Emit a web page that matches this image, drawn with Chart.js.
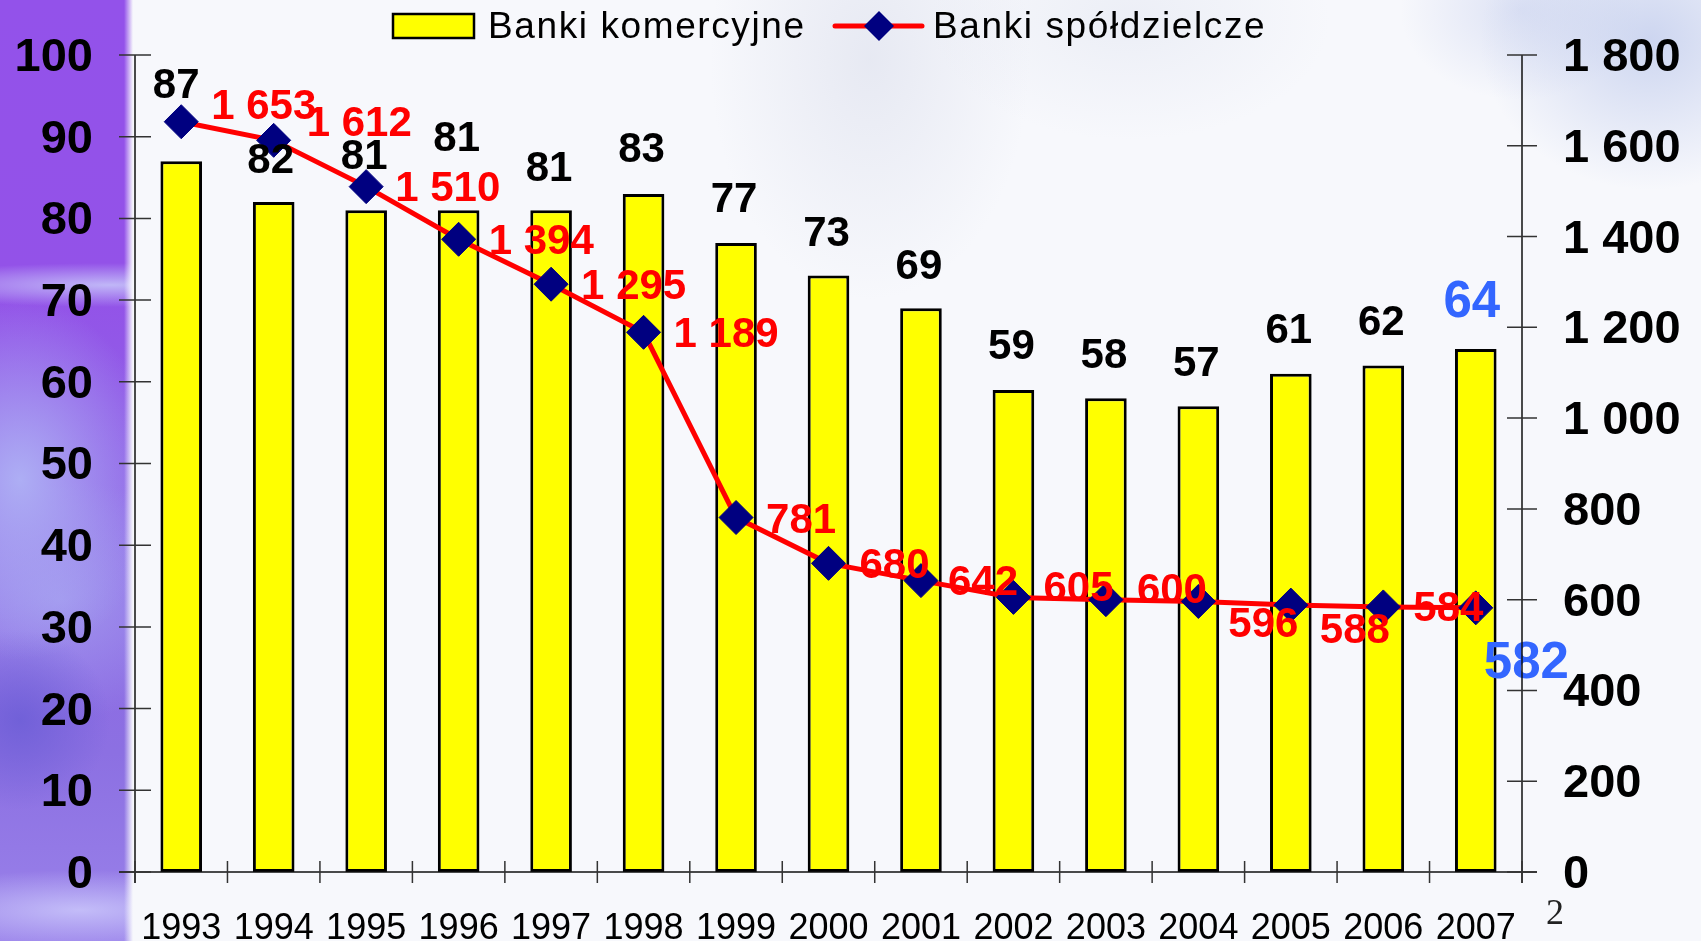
<!DOCTYPE html>
<html>
<head>
<meta charset="utf-8">
<script src="https://cdn.jsdelivr.net/npm/chart.js@4.4.0/dist/chart.umd.min.js"></script>
<style>
html, body { margin:0; padding:0; width:1701px; height:941px; overflow:hidden; }
body {
  background:
    radial-gradient(ellipse 170px 150px at 1650px 40px, rgba(170,185,230,0.55), rgba(170,185,230,0) 100%),
    radial-gradient(ellipse 120px 90px at 1520px 10px, rgba(190,200,235,0.45), rgba(190,200,235,0) 100%),
    radial-gradient(ellipse 160px 240px at 870px 60px, rgba(200,205,225,0.35), rgba(200,205,225,0) 100%),
    radial-gradient(ellipse 200px 120px at 1130px 20px, rgba(215,220,235,0.35), rgba(215,220,235,0) 100%),
    linear-gradient(to right, rgba(247,248,252,0) 0px, rgba(247,248,252,0) 124px, #f7f8fc 133px, #f7f8fc 100%),
    radial-gradient(ellipse 230px 22px at 110px 285px, rgba(200,200,250,0.85), rgba(200,200,250,0) 100%),
    radial-gradient(ellipse 140px 180px at 20px 480px, rgba(175,178,245,0.95), rgba(175,178,245,0) 100%),
    radial-gradient(ellipse 90px 90px at 20px 720px, rgba(110,95,215,0.9), rgba(110,95,215,0) 100%),
    radial-gradient(ellipse 200px 40px at 80px 910px, rgba(200,195,250,0.9), rgba(200,195,250,0) 100%),
    radial-gradient(ellipse 160px 120px at 60px 600px, rgba(165,160,240,0.8), rgba(165,160,240,0) 100%),
    linear-gradient(180deg, #9352ea 0%, #9352e8 30%, #8f66e6 55%, #8c70e2 80%, #9a82ea 100%);
}
canvas { display:block; }
</style>
</head>
<body>
<canvas id="chart" width="1701" height="941"></canvas>
<script>
// ---- data ----
const years = ['1993','1994','1995','1996','1997','1998','1999','2000','2001','2002','2003','2004','2005','2006','2007'];
const commercialBanks = [87, 82, 81, 81, 81, 83, 77, 73, 69, 59, 58, 57, 61, 62, 64];
const cooperativeBanks = [1653, 1612, 1510, 1394, 1295, 1189, 781, 680, 642, 605, 600, 596, 588, 584, 582];
const seriesNames = ['Banki komercyjne', 'Banki spółdzielcze'];
const leftAxisMax = 100, leftAxisStep = 10;
const rightAxisMax = 1800, rightAxisStep = 200;
const slideNumber = '2';

// ---- label placement (pixel offsets from each mark) ----
const barLabelDx = [-5, -3, -2, -2, -2, -2, -2, -2, -2, -2, -2, -2, -2, -2, -4];
const barLabelDy = [-75, -41, -53, -71, -41, -43, -42, -41, -41, -43, -42, -42, -42, -42, -46];
const lineLabelDx = [30, 33, 29, 30, 30, 30, 30, 31, 27, 30, 31, 30, 29, 30, 8];
const lineLabelDy = [-14, -16, 3, 3, 3, 3, 4, 3, 3, -8, -8, 24, 26, 2, 56];

const FONT = '"Liberation Sans", Arial, Helvetica, sans-serif';

function fmtThousands(v) {
  v = Math.round(v);
  if (v >= 1000) return Math.floor(v / 1000) + ' ' + String(v % 1000).padStart(3, '0');
  return String(v);
}

const overlay = {
  id: 'overlay',
  afterDatasetsDraw(chart) {
    const ctx = chart.ctx;
    const bars = chart.getDatasetMeta(0).data;
    const pts = chart.getDatasetMeta(1).data;
    ctx.save();
    ctx.textBaseline = 'middle';
    pts.forEach((p, i) => {
      const last = i === pts.length - 1;
      ctx.font = `bold ${last ? 51 : 42}px ${FONT}`;
      ctx.fillStyle = last ? '#3366ff' : '#ff0000';
      ctx.textAlign = 'left';
      ctx.fillText(fmtThousands(cooperativeBanks[i]), p.x + lineLabelDx[i], p.y + lineLabelDy[i]);
    });
    bars.forEach((b, i) => {
      const last = i === bars.length - 1;
      ctx.font = `bold ${last ? 51 : 42}px ${FONT}`;
      ctx.fillStyle = last ? '#3366ff' : '#000000';
      ctx.textAlign = 'center';
      ctx.fillText(String(commercialBanks[i]), b.x + barLabelDx[i], b.y + barLabelDy[i]);
    });
    ctx.restore();
  },
  afterDraw(chart) {
    const ctx = chart.ctx;
    const a = chart.chartArea;
    const yL = chart.scales.y, yR = chart.scales.y1;
    ctx.save();
    ctx.strokeStyle = '#111';
    ctx.lineWidth = 1.5;
    ctx.beginPath();
    ctx.moveTo(a.left, a.top); ctx.lineTo(a.left, a.bottom + 11);
    ctx.moveTo(a.right, a.top); ctx.lineTo(a.right, a.bottom + 11);
    ctx.moveTo(a.left - 16, a.bottom); ctx.lineTo(a.right + 15, a.bottom);
    ctx.stroke();
    ctx.strokeStyle = '#333';
    ctx.beginPath();
    yL.ticks.forEach(t => { const py = yL.getPixelForValue(t.value); ctx.moveTo(a.left - 16, py); ctx.lineTo(a.left + 16, py); });
    yR.ticks.forEach(t => { const py = yR.getPixelForValue(t.value); ctx.moveTo(a.right - 15, py); ctx.lineTo(a.right + 15, py); });
    const n = years.length;
    for (let i = 0; i <= n; i++) {
      const px = a.left + (a.right - a.left) * i / n;
      ctx.moveTo(px, a.bottom - 11); ctx.lineTo(px, a.bottom + 11);
    }
    ctx.stroke();

    // legend
    const ly = 26;
    ctx.fillStyle = '#ffff00';
    ctx.strokeStyle = '#000';
    ctx.lineWidth = 2.5;
    ctx.fillRect(393, ly - 12, 81, 24);
    ctx.strokeRect(393, ly - 12, 81, 24);
    ctx.fillStyle = '#000';
    ctx.font = `37px ${FONT}`;
    ctx.textBaseline = 'middle';
    ctx.textAlign = 'left';
    ctx.letterSpacing = '1.6px';
    ctx.fillText(chart.data.datasets[0].label, 488, ly + 2);
    ctx.strokeStyle = '#ff0000';
    ctx.lineWidth = 5;
    ctx.lineCap = 'round';
    ctx.beginPath(); ctx.moveTo(835, ly); ctx.lineTo(922, ly); ctx.stroke();
    ctx.fillStyle = '#000080';
    ctx.beginPath();
    ctx.moveTo(879, ly - 15); ctx.lineTo(894, ly); ctx.lineTo(879, ly + 15); ctx.lineTo(864, ly);
    ctx.closePath(); ctx.fill();
    ctx.fillStyle = '#000';
    ctx.fillText(chart.data.datasets[1].label, 933, ly + 2);
    ctx.letterSpacing = '0px';

    ctx.font = `36px "Liberation Serif", "Times New Roman", serif`;
    ctx.fillStyle = '#222';
    ctx.fillText(slideNumber, 1546, 915);
    ctx.restore();
  }
};

function zeroPad(s) { s.paddingTop = 0; s.paddingBottom = 0; s.paddingLeft = 0; s.paddingRight = 0; }

new Chart(document.getElementById('chart'), {
  type: 'bar',
  data: {
    labels: years,
    datasets: [
      {
        type: 'bar',
        label: seriesNames[0],
        data: commercialBanks,
        yAxisID: 'y',
        backgroundColor: '#ffff00',
        borderColor: '#000000',
        borderWidth: 3,
        borderSkipped: false,
        barPercentage: 0.9,
        categoryPercentage: 0.5,
        order: 2
      },
      {
        type: 'line',
        label: seriesNames[1],
        data: cooperativeBanks,
        yAxisID: 'y1',
        borderColor: '#ff0000',
        borderWidth: 5,
        tension: 0,
        pointStyle: 'rectRot',
        pointRadius: 17,
        pointHoverRadius: 17,
        pointBackgroundColor: '#000080',
        pointBorderColor: '#000080',
        pointBorderWidth: 1,
        order: 1
      }
    ]
  },
  options: {
    responsive: false,
    animation: false,
    events: [],
    layout: { padding: { top: 55, bottom: 0, left: 0, right: 0 } },
    plugins: { legend: { display: false }, tooltip: { enabled: false } },
    scales: {
      x: {
        offset: true,
        grid: { display: false, drawTicks: false },
        border: { display: false },
        ticks: {
          autoSkip: false, maxRotation: 0, padding: 35,
          color: '#000',
          font: { family: FONT, size: 36 }
        },
        afterFit(s) { s.height = 69; zeroPad(s); }
      },
      y: {
        position: 'left',
        min: 0, max: leftAxisMax,
        grid: { display: false, drawTicks: false },
        border: { display: false },
        ticks: {
          stepSize: leftAxisStep, padding: 42, labelOffset: 3,
          color: '#000',
          font: { family: FONT, size: 47, weight: 'bold' }
        },
        afterFit(s) { s.width = 135; zeroPad(s); }
      },
      y1: {
        position: 'right',
        min: 0, max: rightAxisMax,
        grid: { display: false, drawTicks: false },
        border: { display: false },
        ticks: {
          stepSize: rightAxisStep, padding: 41, labelOffset: 3,
          color: '#000',
          font: { family: FONT, size: 47, weight: 'bold' },
          callback: v => fmtThousands(v)
        },
        afterFit(s) { s.width = 179; zeroPad(s); }
      }
    }
  },
  plugins: [overlay]
});
</script>
</body>
</html>
